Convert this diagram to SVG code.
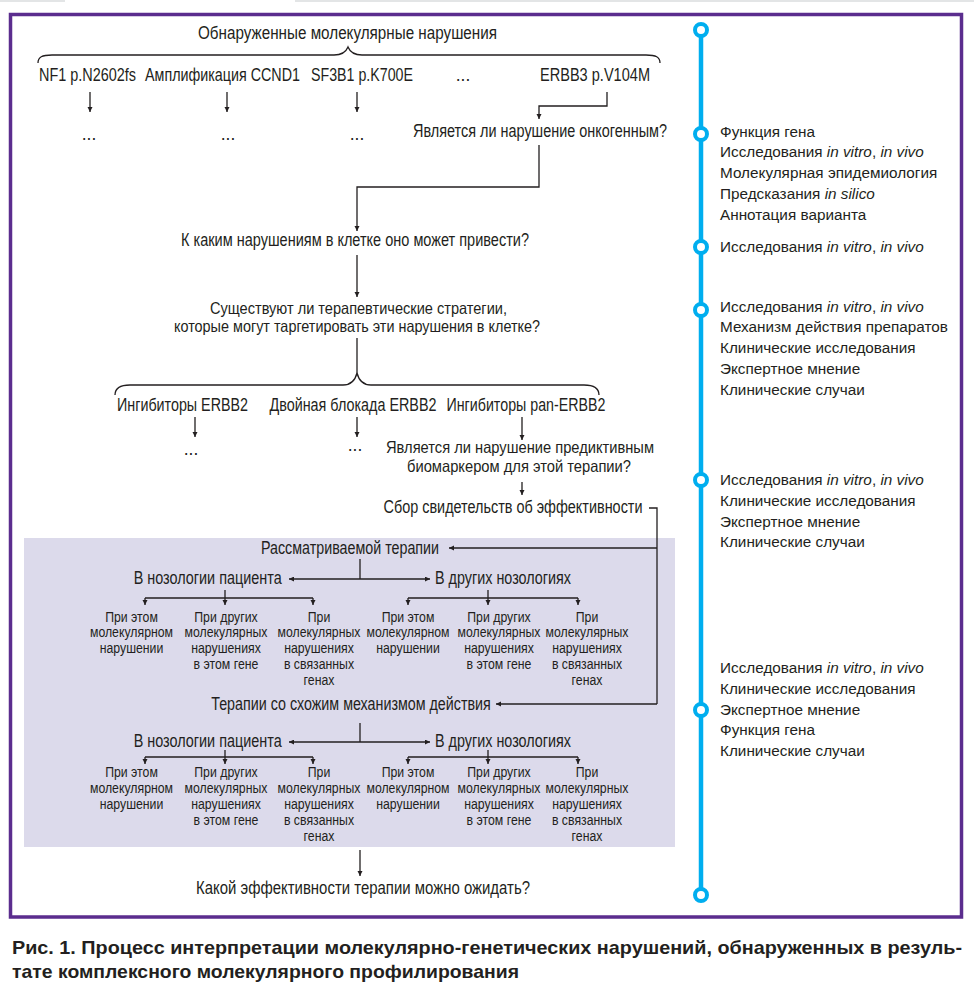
<svg xmlns="http://www.w3.org/2000/svg" width="974" height="994" viewBox="0 0 974 994">
<style>
.t{font-family:"Liberation Sans Narrow","Liberation Sans",Arial,sans-serif;font-size:17.5px;fill:#231f20;text-anchor:middle}
.t2{font-size:16.5px}
.s{font-family:"Liberation Sans",Arial,sans-serif;font-size:15px;fill:#231f20;text-anchor:middle}
.r{font-family:"Liberation Sans",Arial,sans-serif;font-size:15.3px;fill:#231f20}
.r tspan.i{font-style:italic}
.cap{font-family:"Liberation Sans",Arial,sans-serif;font-size:19px;font-weight:bold;fill:#231f20}
.ln{fill:none;stroke:#231f20;stroke-width:1.3}
.ar{fill:none;stroke:#231f20;stroke-width:1.3;marker-end:url(#ah)}
.ar2{fill:none;stroke:#231f20;stroke-width:1.3;marker-end:url(#ah);marker-start:url(#ahs)}
.dot{fill:#fff;stroke:#00aeef;stroke-width:4}
</style>
<defs>
<marker id="ah" markerUnits="userSpaceOnUse" markerWidth="8" markerHeight="8" refX="5" refY="2.5" orient="auto"><path d="M0,0 L5,2.5 L0,5 Z" fill="#231f20"/></marker>
<marker id="ahs" markerUnits="userSpaceOnUse" markerWidth="8" markerHeight="8" refX="0" refY="2.5" orient="auto"><path d="M5,0 L0,2.5 L5,5 Z" fill="#231f20"/></marker>
</defs>
<rect width="974" height="994" fill="#fff"/>
<rect x="0" y="0" width="65" height="2" fill="#e3e5e6"/>
<rect x="295" y="0" width="679" height="2" fill="#e3e5e6"/>
<rect id="frame" x="10.5" y="14.5" width="951" height="902.5" fill="none" stroke="#5b2d8e" stroke-width="3.5"/>
<rect id="evidence-box" x="24" y="538" width="651" height="309" fill="#dcdaeb"/>

<g id="connectors">
<path class="ln" d="M38,63 C38,57 42,55 52,55 H334 C342,55 346,52 348,47 C350,52 354,55 362,55 H646 C656,55 660,57 660,63"/>
<path class="ar" d="M90,92 V112"/>
<path class="ar" d="M227,92 V112"/>
<path class="ar" d="M357,92 V112"/>
<path class="ar" d="M607,92 V106 H539 V119"/>
<path class="ar" d="M539,145 V187 H357 V231"/>
<path class="ar" d="M357,255 V297"/>
<path class="ln" d="M357,338 V373"/>
<path class="ln" d="M115,395 C115,388 120,385 130,385 H343 C351,385 355,381 357,373 C359,381 363,385 371,385 H584 C594,385 599,388 599,395"/>
<path class="ar" d="M195,417 V437"/>
<path class="ar" d="M357,417 V437"/>
<path class="ar" d="M522,417 V440"/>
<path class="ar" d="M522,482 V495"/>
<path class="ln" d="M649,508 H657 V704"/>
<path class="ar" d="M657,548 H449"/>
<path class="ar" d="M657,704 H496"/>
<path class="ln" d="M360,559 V579"/>
<path class="ar2" d="M289,579 H430"/>
<path class="ln" d="M225,590 V598 M145,598 H313"/>
<path class="ar" d="M145,598 V605"/>
<path class="ar" d="M225,598 V605"/>
<path class="ar" d="M313,598 V605"/>
<path class="ln" d="M488,590 V598 M408,598 H578"/>
<path class="ar" d="M408,598 V605"/>
<path class="ar" d="M488,598 V605"/>
<path class="ar" d="M578,598 V605"/>
<path class="ln" d="M360,723 V742"/>
<path class="ar2" d="M289,742 H430"/>
<path class="ln" d="M225,750 V757 M145,757 H313"/>
<path class="ar" d="M145,757 V764"/>
<path class="ar" d="M225,757 V764"/>
<path class="ar" d="M313,757 V764"/>
<path class="ln" d="M488,750 V757 M408,757 H578"/>
<path class="ar" d="M408,757 V764"/>
<path class="ar" d="M488,757 V764"/>
<path class="ar" d="M578,757 V764"/>
<path class="ar" d="M360,850 V876"/>
</g>

<g id="n-title"><text class="t" x="347.5" y="39" textLength="299" lengthAdjust="spacingAndGlyphs">Обнаруженные молекулярные нарушения</text></g>
<g id="n-nf1"><text class="t" x="87.5" y="81" textLength="97" lengthAdjust="spacingAndGlyphs">NF1 p.N2602fs</text></g>
<g id="n-ccnd1"><text class="t" x="222.5" y="81" textLength="155" lengthAdjust="spacingAndGlyphs">Амплификация CCND1</text></g>
<g id="n-sf3b1"><text class="t" x="362" y="81" textLength="102" lengthAdjust="spacingAndGlyphs">SF3B1 p.K700E</text></g>
<g id="n-etc1"><text class="t" x="463" y="81">...</text></g>
<g id="n-erbb3"><text class="t" x="595" y="81" textLength="110" lengthAdjust="spacingAndGlyphs">ERBB3 p.V104M</text></g>
<g id="n-dots1"><text class="t" x="89" y="140">...</text></g>
<g id="n-dots2"><text class="t" x="228" y="140">...</text></g>
<g id="n-dots3"><text class="t" x="357" y="140">...</text></g>
<g id="n-oncogenic"><text class="t" x="540" y="137" textLength="254" lengthAdjust="spacingAndGlyphs">Является ли нарушение онкогенным?</text></g>
<g id="n-cell"><text class="t" x="355" y="246" textLength="348" lengthAdjust="spacingAndGlyphs">К каким нарушениям в клетке оно может привести?</text></g>
<g id="n-strategies"><text class="t t2" x="358.5" y="314" textLength="297" lengthAdjust="spacingAndGlyphs">Существуют ли терапевтические стратегии,</text><text class="t t2" x="357" y="332" textLength="366" lengthAdjust="spacingAndGlyphs">которые могут таргетировать эти нарушения в клетке?</text></g>
<g id="n-erbb2"><text class="t" x="182.5" y="411" textLength="131" lengthAdjust="spacingAndGlyphs">Ингибиторы ERBB2</text></g>
<g id="n-dual"><text class="t" x="353" y="411" textLength="167" lengthAdjust="spacingAndGlyphs">Двойная блокада ERBB2</text></g>
<g id="n-pan"><text class="t" x="526" y="411" textLength="159" lengthAdjust="spacingAndGlyphs">Ингибиторы pan-ERBB2</text></g>
<g id="n-dots4"><text class="t" x="191" y="455">...</text></g>
<g id="n-dots5"><text class="t" x="355" y="451">...</text></g>
<g id="n-predictive"><text class="t t2" x="520" y="453" textLength="268" lengthAdjust="spacingAndGlyphs">Является ли нарушение предиктивным</text><text class="t t2" x="519" y="472" textLength="224" lengthAdjust="spacingAndGlyphs">биомаркером для этой терапии?</text></g>
<g id="n-evidence"><text class="t" x="513" y="513" textLength="259" lengthAdjust="spacingAndGlyphs">Сбор свидетельств об эффективности</text></g>

<g id="n-therapy"><text class="t" x="350" y="554" textLength="178" lengthAdjust="spacingAndGlyphs">Рассматриваемой терапии</text></g>
<g id="n-a-patient"><text class="t" x="207.7" y="584" textLength="148" lengthAdjust="spacingAndGlyphs">В нозологии пациента</text></g>
<g id="n-a-other"><text class="t" x="503" y="584" textLength="136" lengthAdjust="spacingAndGlyphs">В других нозологиях</text></g>
<g id="n-a1"><text class="s" transform="translate(131.5,621.5) scale(0.82,1)"><tspan x="0" y="0">При этом</tspan><tspan x="0" y="16">молекулярном</tspan><tspan x="0" y="32">нарушении</tspan></text></g>
<g id="n-a2"><text class="s" transform="translate(226,621.5) scale(0.82,1)"><tspan x="0" y="0">При других</tspan><tspan x="0" y="16">молекулярных</tspan><tspan x="0" y="32">нарушениях</tspan><tspan x="0" y="48">в этом гене</tspan></text></g>
<g id="n-a3"><text class="s" transform="translate(319,621.5) scale(0.82,1)"><tspan x="0" y="0">При</tspan><tspan x="0" y="16">молекулярных</tspan><tspan x="0" y="32">нарушениях</tspan><tspan x="0" y="48">в связанных</tspan><tspan x="0" y="64">генах</tspan></text></g>
<g id="n-a4"><text class="s" transform="translate(408,621.5) scale(0.82,1)"><tspan x="0" y="0">При этом</tspan><tspan x="0" y="16">молекулярном</tspan><tspan x="0" y="32">нарушении</tspan></text></g>
<g id="n-a5"><text class="s" transform="translate(499,621.5) scale(0.82,1)"><tspan x="0" y="0">При других</tspan><tspan x="0" y="16">молекулярных</tspan><tspan x="0" y="32">нарушениях</tspan><tspan x="0" y="48">в этом гене</tspan></text></g>
<g id="n-a6"><text class="s" transform="translate(587,621.5) scale(0.82,1)"><tspan x="0" y="0">При</tspan><tspan x="0" y="16">молекулярных</tspan><tspan x="0" y="32">нарушениях</tspan><tspan x="0" y="48">в связанных</tspan><tspan x="0" y="64">генах</tspan></text></g>

<g id="n-similar"><text class="t" x="351" y="710" textLength="279.5" lengthAdjust="spacingAndGlyphs">Терапии со схожим механизмом действия</text></g>
<g id="n-b-patient"><text class="t" x="207.7" y="747" textLength="148" lengthAdjust="spacingAndGlyphs">В нозологии пациента</text></g>
<g id="n-b-other"><text class="t" x="503" y="747" textLength="136" lengthAdjust="spacingAndGlyphs">В других нозологиях</text></g>
<g id="n-b1"><text class="s" transform="translate(131.5,777) scale(0.82,1)"><tspan x="0" y="0">При этом</tspan><tspan x="0" y="16">молекулярном</tspan><tspan x="0" y="32">нарушении</tspan></text></g>
<g id="n-b2"><text class="s" transform="translate(226,777) scale(0.82,1)"><tspan x="0" y="0">При других</tspan><tspan x="0" y="16">молекулярных</tspan><tspan x="0" y="32">нарушениях</tspan><tspan x="0" y="48">в этом гене</tspan></text></g>
<g id="n-b3"><text class="s" transform="translate(319,777) scale(0.82,1)"><tspan x="0" y="0">При</tspan><tspan x="0" y="16">молекулярных</tspan><tspan x="0" y="32">нарушениях</tspan><tspan x="0" y="48">в связанных</tspan><tspan x="0" y="64">генах</tspan></text></g>
<g id="n-b4"><text class="s" transform="translate(408,777) scale(0.82,1)"><tspan x="0" y="0">При этом</tspan><tspan x="0" y="16">молекулярном</tspan><tspan x="0" y="32">нарушении</tspan></text></g>
<g id="n-b5"><text class="s" transform="translate(499,777) scale(0.82,1)"><tspan x="0" y="0">При других</tspan><tspan x="0" y="16">молекулярных</tspan><tspan x="0" y="32">нарушениях</tspan><tspan x="0" y="48">в этом гене</tspan></text></g>
<g id="n-b6"><text class="s" transform="translate(587,777) scale(0.82,1)"><tspan x="0" y="0">При</tspan><tspan x="0" y="16">молекулярных</tspan><tspan x="0" y="32">нарушениях</tspan><tspan x="0" y="48">в связанных</tspan><tspan x="0" y="64">генах</tspan></text></g>

<g id="n-expect"><text class="t" x="363" y="894" textLength="334" lengthAdjust="spacingAndGlyphs">Какой эффективности терапии можно ожидать?</text></g>

<g id="timeline">
<line x1="701" y1="30" x2="701" y2="895" stroke="#00aeef" stroke-width="4.5"/>
<circle class="dot" cx="701" cy="30" r="6"/>
<circle class="dot" cx="701" cy="134" r="6"/>
<circle class="dot" cx="701" cy="247" r="6"/>
<circle class="dot" cx="701" cy="310" r="6"/>
<circle class="dot" cx="701" cy="480" r="6"/>
<circle class="dot" cx="701" cy="710" r="6"/>
<circle class="dot" cx="701" cy="895" r="6"/>
</g>
<g id="ev-1"><text class="r" x="720" y="136.5">Функция гена<tspan x="720" dy="20.8">Исследования <tspan class="i">in vitro</tspan>, <tspan class="i">in vivo</tspan></tspan><tspan x="720" dy="20.8">Молекулярная эпидемиология</tspan><tspan x="720" dy="20.8">Предсказания <tspan class="i">in silico</tspan></tspan><tspan x="720" dy="20.8">Аннотация варианта</tspan></text></g>
<g id="ev-2"><text class="r" x="720" y="251.5">Исследования <tspan class="i">in vitro</tspan>, <tspan class="i">in vivo</tspan></text></g>
<g id="ev-3"><text class="r" x="720" y="311.5">Исследования <tspan class="i">in vitro</tspan>, <tspan class="i">in vivo</tspan><tspan x="720" dy="20.8">Механизм действия препаратов</tspan><tspan x="720" dy="20.8">Клинические исследования</tspan><tspan x="720" dy="20.8">Экспертное мнение</tspan><tspan x="720" dy="20.8">Клинические случаи</tspan></text></g>
<g id="ev-4"><text class="r" x="720" y="485">Исследования <tspan class="i">in vitro</tspan>, <tspan class="i">in vivo</tspan><tspan x="720" dy="20.8">Клинические исследования</tspan><tspan x="720" dy="20.8">Экспертное мнение</tspan><tspan x="720" dy="20.8">Клинические случаи</tspan></text></g>
<g id="ev-5"><text class="r" x="720" y="673">Исследования <tspan class="i">in vitro</tspan>, <tspan class="i">in vivo</tspan><tspan x="720" dy="20.8">Клинические исследования</tspan><tspan x="720" dy="20.8">Экспертное мнение</tspan><tspan x="720" dy="20.8">Функция гена</tspan><tspan x="720" dy="20.8">Клинические случаи</tspan></text></g>

<g id="caption">
<text class="cap" x="12" y="954" textLength="950" lengthAdjust="spacingAndGlyphs">Рис. 1. Процесс интерпретации молекулярно-генетических нарушений, обнаруженных в резуль-</text>
<text class="cap" x="12" y="978" textLength="507" lengthAdjust="spacingAndGlyphs">тате комплексного молекулярного профилирования</text>
</g>
</svg>
